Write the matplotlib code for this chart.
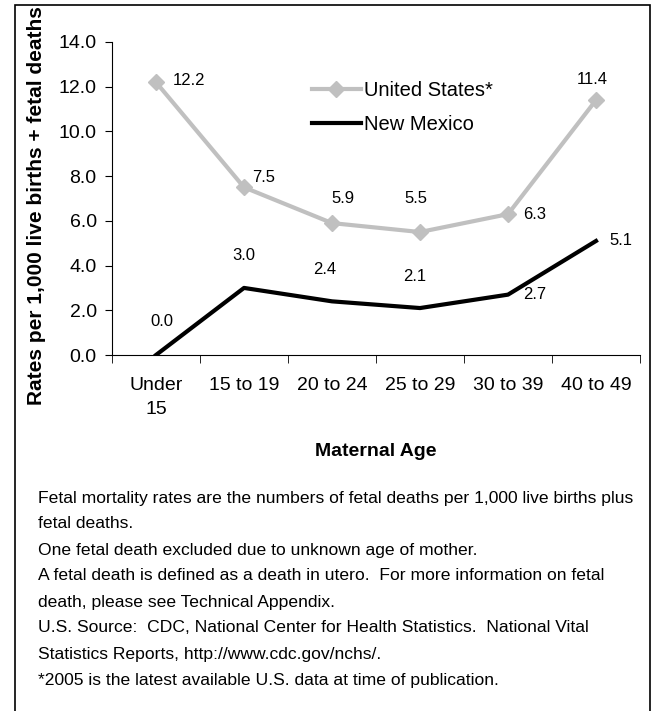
import matplotlib.pyplot as plt
from matplotlib.patches import Rectangle

plt.rcParams["font.family"] = ["Liberation Sans", "DejaVu Sans"]

ages = ["Under\n15", "15 to 19", "20 to 24", "25 to 29", "30 to 39", "40 to 49"]
us_rates = [12.2, 7.5, 5.9, 5.5, 6.3, 11.4]
nm_rates = [0.0, 3.0, 2.4, 2.1, 2.7, 5.1]

# label offsets in points (dx, dy)
us_offsets = [(24, 1), (14, 7), (8, 18), (-3, 24), (19, 0), (-3, 15)]
nm_offsets = [(4, 24), (0, 23), (-5, 23), (-4, 23), (19, 0), (18, 0)]

notes = [
    "Fetal mortality rates are the numbers of fetal deaths per 1,000 live births plus",
    "fetal deaths.",
    "One fetal death excluded due to unknown age of mother.",
    "A fetal death is defined as a death in utero.  For more information on fetal",
    "death, please see Technical Appendix.",
    "U.S. Source:  CDC, National Center for Health Statistics.  National Vital",
    "Statistics Reports, http://www.cdc.gov/nchs/.",
    "*2005 is the latest available U.S. data at time of publication.",
]

W, H = 652, 711
fig = plt.figure(figsize=(W / 100, H / 100), dpi=100)

# outer frame
fig.patches.append(Rectangle((15 / W, -0.05), 635 / W, 1.05 - 5 / H,
                             transform=fig.transFigure, fill=False,
                             edgecolor="black", linewidth=1.2))

ax = fig.add_axes([112 / W, 1 - 355 / H, 528 / W, 313 / H])
x = list(range(len(ages)))

ax.plot(x, us_rates, color="#c0c0c0", linewidth=3, marker="D", markersize=8,
        label="United States*")
ax.plot(x, nm_rates, color="black", linewidth=3, label="New Mexico")

for xi, v, (dx, dy) in zip(x, us_rates, us_offsets):
    ax.annotate(f"{v:.1f}", (xi, v), xytext=(dx, dy), textcoords="offset points",
                ha="center", va="center", fontsize=12)
for xi, v, (dx, dy) in zip(x, nm_rates, nm_offsets):
    ax.annotate(f"{v:.1f}", (xi, v), xytext=(dx, dy), textcoords="offset points",
                ha="center", va="center", fontsize=12)

ax.set_xlim(-0.5, 5.5)
ax.set_ylim(0, 14)
ax.set_yticks([0, 2, 4, 6, 8, 10, 12, 14])
ax.set_yticklabels([f"{t:.1f}" for t in [0, 2, 4, 6, 8, 10, 12, 14]], fontsize=14)
ax.set_xticks(x)
ax.set_xticklabels(ages, fontsize=14, linespacing=1.5)
ax.set_xticks([i - 0.5 for i in range(len(ages) + 1)], minor=True)
ax.tick_params(axis="x", which="major", length=0, pad=16)
ax.tick_params(axis="x", which="minor", length=6, direction="out")
ax.tick_params(axis="y", length=5, direction="out", pad=6)
ax.spines["top"].set_visible(False)
ax.spines["right"].set_visible(False)

ax.set_xlabel("Maternal Age", fontsize=14, fontweight="bold", labelpad=18)
fig.text(37 / W, 1 - 206 / H, "Rates per 1,000 live births + fetal deaths",
         rotation=90, ha="center", va="center", fontsize=15, fontweight="bold")

ax.legend(loc="upper left", bbox_to_anchor=(0.364, 0.90), frameon=False,
          fontsize=14.5, handlelength=2.4, handletextpad=0.15, labelspacing=0.75,
          borderaxespad=0)

for i, line in enumerate(notes):
    fig.text(38 / W, 1 - (498 + 26 * i) / H, line, ha="left", va="center",
             fontsize=12.6)

fig.savefig("out.png", dpi=100)
